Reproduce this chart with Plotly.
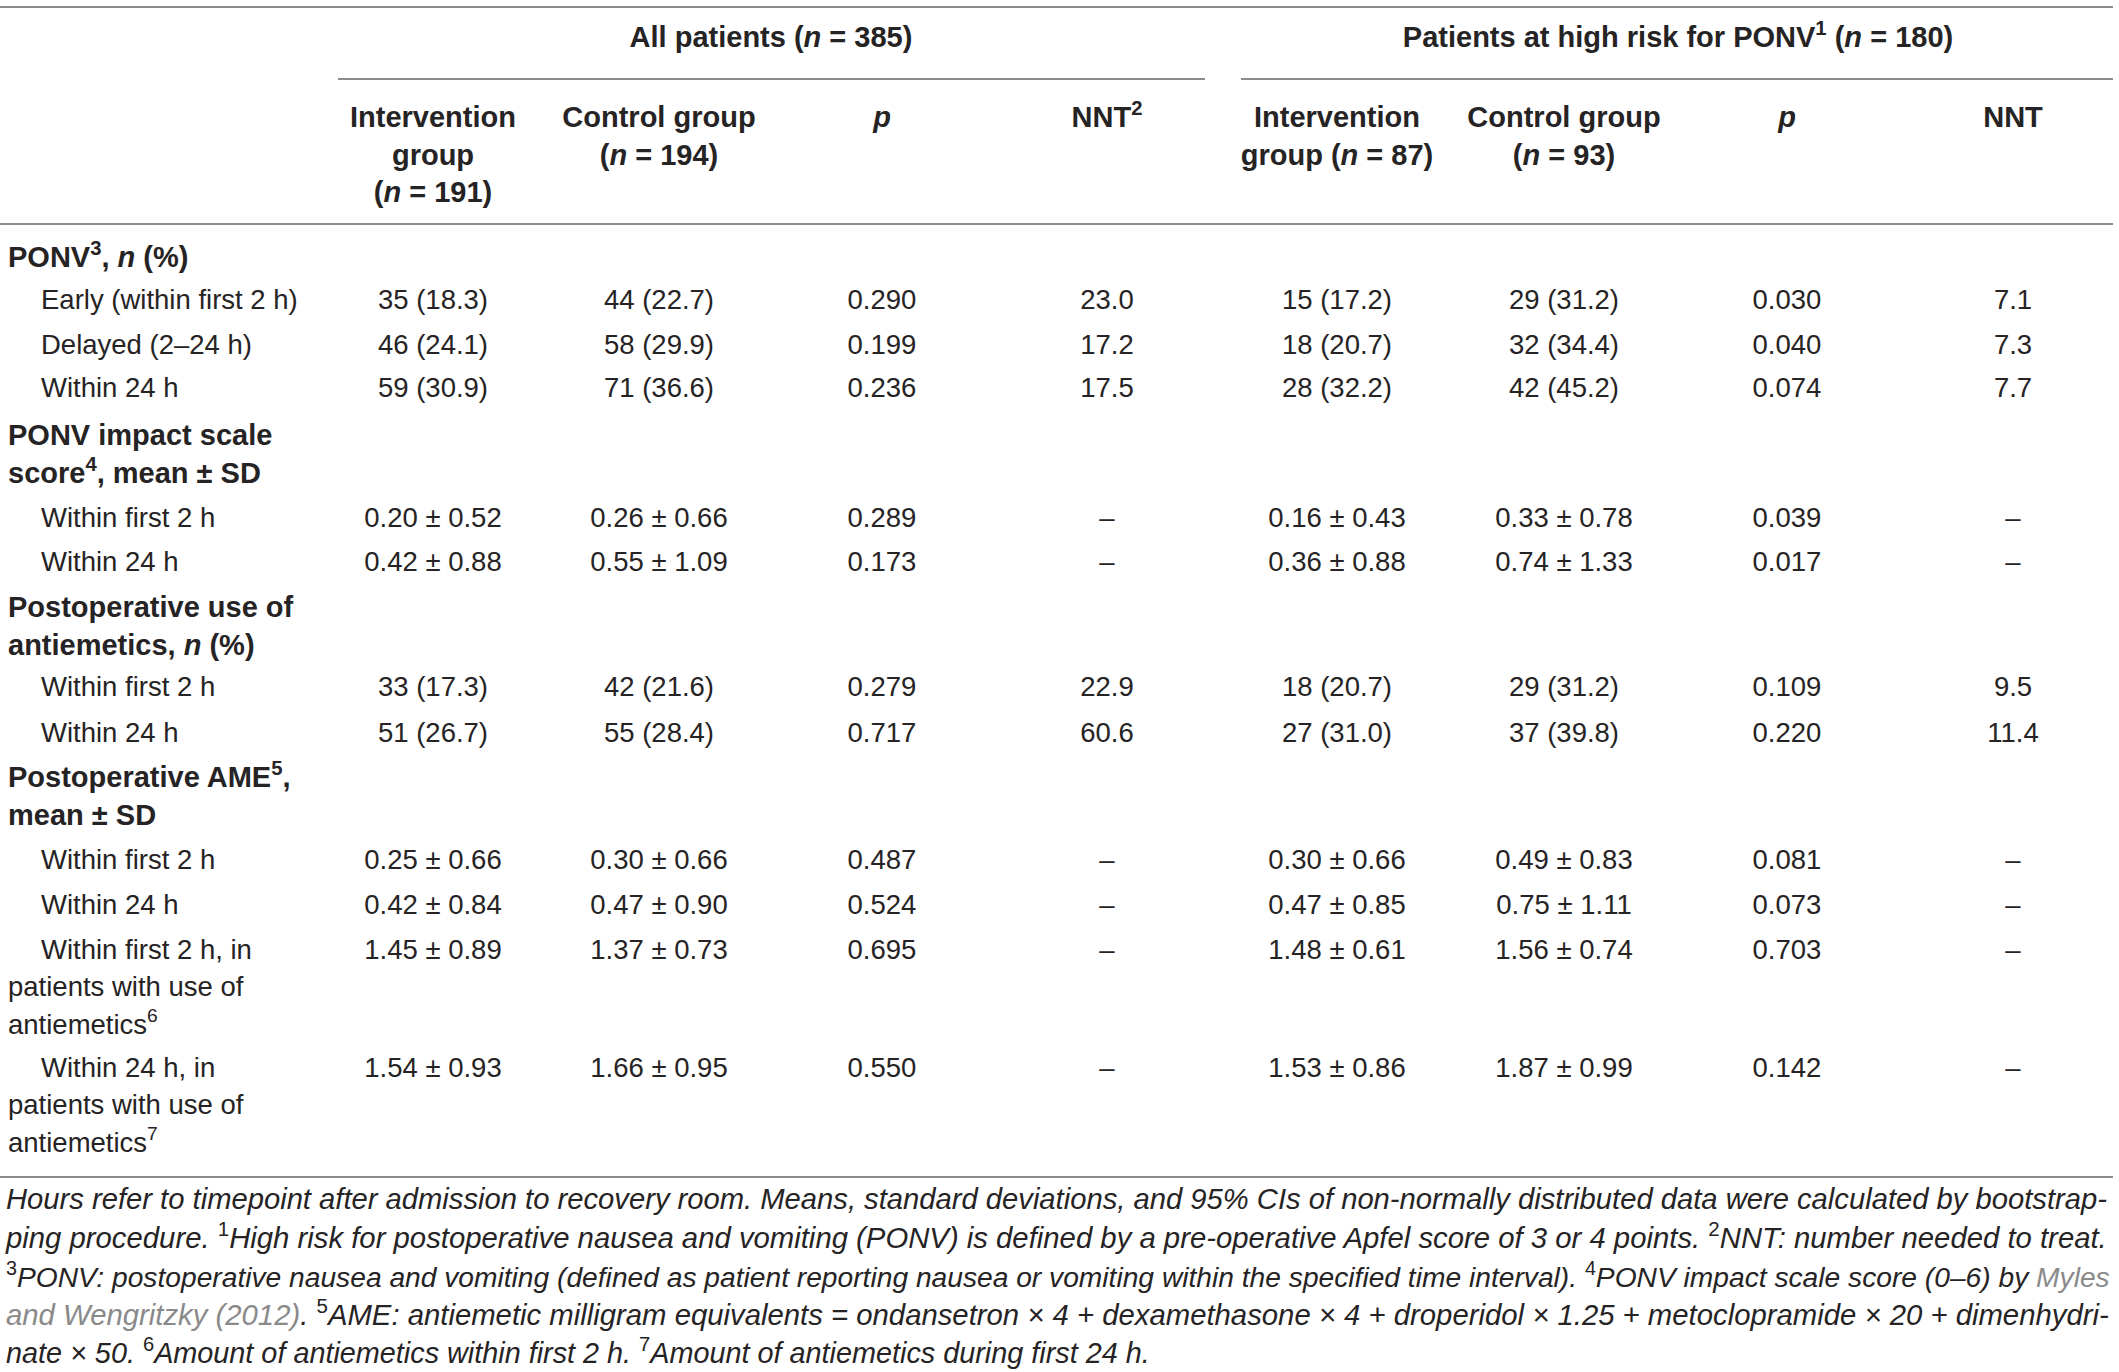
import plotly.graph_objects as go

# ---------------- data ----------------
group_titles = ["All patients (<i>n</i> = 385)",
                "Patients at high risk for PONV<sup>1</sup> (<i>n</i> = 180)"]

col_headers = [
    ["Intervention", "group", "(<i>n</i> = 191)"],
    ["Control group", "(<i>n</i> = 194)"],
    ["<i>p</i>"],
    ["NNT<sup>2</sup>"],
    ["Intervention", "group (<i>n</i> = 87)"],
    ["Control group", "(<i>n</i> = 93)"],
    ["<i>p</i>"],
    ["NNT"],
]

section_titles = [
    ["PONV<sup>3</sup>, <i>n</i> (%)"],
    ["PONV impact scale", "score<sup>4</sup>, mean ± SD"],
    ["Postoperative use of", "antiemetics, <i>n</i> (%)"],
    ["Postoperative AME<sup>5</sup>,", "mean ± SD"],
]

row_labels = [
    ["Early (within first 2 h)"],
    ["Delayed (2–24 h)"],
    ["Within 24 h"],
    ["Within first 2 h"],
    ["Within 24 h"],
    ["Within first 2 h"],
    ["Within 24 h"],
    ["Within first 2 h"],
    ["Within 24 h"],
    ["Within first 2 h, in", "patients with use of", "antiemetics<sup>6</sup>"],
    ["Within 24 h, in", "patients with use of", "antiemetics<sup>7</sup>"],
]

int_all = ["35 (18.3)", "46 (24.1)", "59 (30.9)", "0.20 ± 0.52", "0.42 ± 0.88",
           "33 (17.3)", "51 (26.7)", "0.25 ± 0.66", "0.42 ± 0.84", "1.45 ± 0.89", "1.54 ± 0.93"]
ctrl_all = ["44 (22.7)", "58 (29.9)", "71 (36.6)", "0.26 ± 0.66", "0.55 ± 1.09",
            "42 (21.6)", "55 (28.4)", "0.30 ± 0.66", "0.47 ± 0.90", "1.37 ± 0.73", "1.66 ± 0.95"]
p_all = ["0.290", "0.199", "0.236", "0.289", "0.173",
         "0.279", "0.717", "0.487", "0.524", "0.695", "0.550"]
nnt_all = ["23.0", "17.2", "17.5", "–", "–", "22.9", "60.6", "–", "–", "–", "–"]
int_hr = ["15 (17.2)", "18 (20.7)", "28 (32.2)", "0.16 ± 0.43", "0.36 ± 0.88",
          "18 (20.7)", "27 (31.0)", "0.30 ± 0.66", "0.47 ± 0.85", "1.48 ± 0.61", "1.53 ± 0.86"]
ctrl_hr = ["29 (31.2)", "32 (34.4)", "42 (45.2)", "0.33 ± 0.78", "0.74 ± 1.33",
           "29 (31.2)", "37 (39.8)", "0.49 ± 0.83", "0.75 ± 1.11", "1.56 ± 0.74", "1.87 ± 0.99"]
p_hr = ["0.030", "0.040", "0.074", "0.039", "0.017",
        "0.109", "0.220", "0.081", "0.073", "0.703", "0.142"]
nnt_hr = ["7.1", "7.3", "7.7", "–", "–", "9.5", "11.4", "–", "–", "–", "–"]

GREY = '<span style="color:#8a8a8a">'
footnote_lines = [
    "<i>Hours refer to timepoint after admission to recovery room. Means, standard deviations, and 95% CIs of non-normally distributed data were calculated by bootstrap-</i>",
    "<i>ping procedure. </i><sup>1</sup><i>High risk for postoperative nausea and vomiting (PONV) is defined by a pre-operative Apfel score of 3 or 4 points. </i><sup>2</sup><i>NNT: number needed to treat.</i>",
    "<sup>3</sup><i>PONV: postoperative nausea and vomiting (defined as patient reporting nausea or vomiting within the specified time interval). </i><sup>4</sup><i>PONV impact scale score (0–6) by </i>" + GREY + "<i>Myles</i></span>",
    GREY + "<i>and Wengritzky (2012)</i></span><i>. </i><sup>5</sup><i>AME: antiemetic milligram equivalents = ondansetron × 4 + dexamethasone × 4 + droperidol × 1.25 + metoclopramide × 20 + dimenhydri-</i>",
    "<i>nate × 50. </i><sup>6</sup><i>Amount of antiemetics within first 2 h. </i><sup>7</sup><i>Amount of antiemetics during first 24 h.</i>",
]

# ---------------- layout positions (page pixels) ----------------
W, H = 2119, 1372
col_x = [433, 659, 882, 1107, 1337, 1564, 1787, 2013]
group_x = [771, 1678]
group_y = 40
header_y0 = 120
header_dy = 37.5
section_y = [260, 438, 610, 780]
row_y = [302, 347, 390, 520, 564, 689, 735, 862, 907, 952, 1070]
wrap_dy = 37.5
label_x_first = 41
label_x_cont = 8
section_x = 8
foot_x = 6
foot_y = [1202, 1241, 1280, 1318, 1356]
foot_sizes = [29.2, 29.3, 28.2, 29.3, 28.8]
rules = [(0, 2113, 7), (338, 1205, 79), (1241, 2113, 79), (0, 2113, 224), (0, 2113, 1177)]

TXT = "#262324"
LINE = "#8c8c8c"
FONT = "Liberation Sans, Arial, sans-serif"
FS = 27.5
FS_BOLD = 29

fig = go.Figure()

def add_text(xs, ys, texts, pos, size=FS, color=TXT):
    fig.add_trace(go.Scatter(x=xs, y=ys, text=texts, mode="text", cliponaxis=False,
                             textposition=pos, hoverinfo="skip", showlegend=False,
                             textfont=dict(family=FONT, size=size, color=color)))

# group titles
add_text(group_x, [group_y] * 2, ["<b>" + t + "</b>" for t in group_titles], "middle center", FS_BOLD)

# column headers
hx, hy, ht = [], [], []
for x, lines in zip(col_x, col_headers):
    for k, ln in enumerate(lines):
        hx.append(x); hy.append(header_y0 + k * header_dy); ht.append("<b>" + ln + "</b>")
add_text(hx, hy, ht, "middle center", FS_BOLD)

# section titles
sx, sy, st = [], [], []
for y, lines in zip(section_y, section_titles):
    for k, ln in enumerate(lines):
        sx.append(section_x); sy.append(y + k * wrap_dy); st.append("<b>" + ln + "</b>")
add_text(sx, sy, st, "middle right", FS_BOLD)

# row labels
lx, ly, lt = [], [], []
for y, lines in zip(row_y, row_labels):
    for k, ln in enumerate(lines):
        lx.append(label_x_first if k == 0 else label_x_cont)
        ly.append(y + k * wrap_dy); lt.append(ln)
add_text(lx, ly, lt, "middle right")

# values
for x, col in zip(col_x, [int_all, ctrl_all, p_all, nnt_all, int_hr, ctrl_hr, p_hr, nnt_hr]):
    add_text([x] * len(col), row_y, col, "middle center")

# footnotes (one trace per line so each can be sized to its width)
for y, ln, fs in zip(foot_y, footnote_lines, foot_sizes):
    add_text([foot_x], [y], [ln], "middle right", size=fs)

# rules
for x0, x1, y in rules:
    fig.add_shape(type="line", x0=x0, x1=x1, y0=y, y1=y, xref="x", yref="y",
                  line=dict(color=LINE, width=2))

fig.update_layout(
    width=W, height=H,
    margin=dict(l=0, r=0, t=0, b=0),
    paper_bgcolor="white", plot_bgcolor="white",
    xaxis=dict(range=[0, W], visible=False, fixedrange=True),
    yaxis=dict(range=[H, 0], visible=False, fixedrange=True),
)
# remove the default page margin so that page pixel == data coordinate
fig.write_html("out.html", config={"displayModeBar": False, "staticPlot": True},
               post_script="document.body.style.margin='0';")
